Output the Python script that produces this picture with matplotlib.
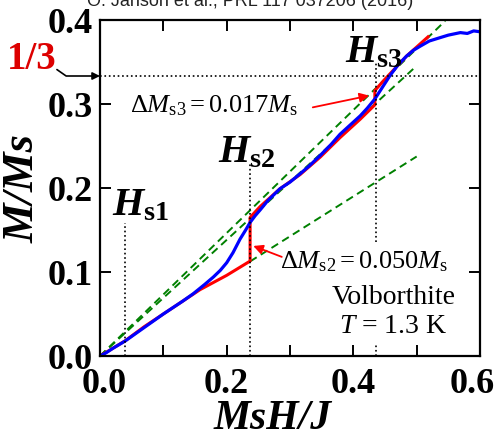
import matplotlib
matplotlib.use('Agg')
import matplotlib.pyplot as plt
from matplotlib.ticker import MultipleLocator, FixedLocator
from matplotlib.transforms import ScaledTranslation

plt.rcParams['font.family'] = ['Liberation Serif', 'DejaVu Serif']
plt.rcParams['mathtext.fontset'] = 'custom'
plt.rcParams['mathtext.rm'] = 'Liberation Serif'
plt.rcParams['mathtext.it'] = 'Liberation Serif:italic'
plt.rcParams['mathtext.bf'] = 'Liberation Serif:bold'
plt.rcParams['mathtext.bfit'] = 'Liberation Serif:italic:bold'

# data
# experiment (blue)
exp_h = [0, 0.01, 0.02, 0.04, 0.07, 0.10, 0.13, 0.147, 0.165, 0.179, 0.19, 0.200,
         0.21, 0.221, 0.23, 0.237, 0.245, 0.253, 0.265, 0.284, 0.30, 0.316, 0.33,
         0.348, 0.365, 0.379, 0.395, 0.411, 0.422, 0.434, 0.446, 0.458, 0.470,
         0.484, 0.495, 0.506, 0.52, 0.537, 0.55, 0.569, 0.58, 0.59, 0.60]
exp_m = [0, 0.004, 0.009, 0.018, 0.034, 0.050, 0.065, 0.074, 0.085, 0.094, 0.102, 0.111,
         0.123, 0.139, 0.150, 0.159, 0.167, 0.174, 0.185, 0.199, 0.207, 0.217, 0.226,
         0.239, 0.252, 0.264, 0.275, 0.286, 0.295, 0.306, 0.320, 0.334, 0.346,
         0.357, 0.364, 0.369, 0.375, 0.379, 0.382, 0.385, 0.384, 0.387, 0.386]
# theory (red)
th_h = [0, 0.02, 0.0395, 0.07, 0.10, 0.158, 0.20, 0.237, 0.237, 0.253, 0.284, 0.316,
        0.348, 0.379, 0.411, 0.434, 0.434, 0.448, 0.484, 0.518]
th_m = [0, 0.009, 0.018, 0.035, 0.050, 0.079, 0.096, 0.113, 0.165, 0.178, 0.199, 0.216,
        0.237, 0.260, 0.282, 0.299, 0.316, 0.328, 0.357, 0.380]

# green guide lines through the origin: (slope, x start, x end)
guides = [(0.732, 0.0, 0.545), (0.691, 0.0, 0.498), (0.475, 0.237, 0.50)]

# critical fields
hs_x = [0.040, 0.237, 0.436]
hs_top = [0.158, 0.229, 0.350]

x_ticks = [0, 0.2, 0.4, 0.6]
x_tick_labels = ['0.0', '0.2', '0.4', '0.6']

fig = plt.figure(figsize=(5, 4.39), dpi=100)
ax = fig.add_axes([0.2, 1 - 357 / 439, 0.76, 336 / 439])

for s, x0, x1 in guides:
    ax.plot([x0, x1], [s * x0, s * x1], color='#008000', lw=1.4, ls=(0, (4, 2.5)))

ax.plot(th_h, th_m, color='red', lw=2.2)
ax.plot(exp_h, exp_m, color='blue', lw=2.3)

# dotted lines
ax.plot([0, 0.6], [1 / 3, 1 / 3], color='k', lw=1.2, ls=':')
ax.plot([hs_x[0], hs_x[0]], [0, hs_top[0]], color='k', lw=1.2, ls=':')
ax.plot([hs_x[1], hs_x[1]], [0, hs_top[1]], color='k', lw=1.2, ls=':')
ax.plot([hs_x[2], hs_x[2]], [0.136, hs_top[2]], color='k', lw=1.2, ls=':')
ax.plot([hs_x[2], hs_x[2]], [0, 0.014], color='k', lw=1.2, ls=':')

ax.set_xlim(0, 0.6)
ax.set_ylim(0, 0.4)
ax.set_xticks(x_ticks)
ax.set_xticklabels(x_tick_labels)
ax.xaxis.set_minor_locator(FixedLocator([0.1, 0.3, 0.5]))
ax.yaxis.set_major_locator(MultipleLocator(0.1))
ax.yaxis.set_major_formatter(plt.FuncFormatter(lambda v, p: f'{v:.1f}'))
ax.tick_params(which='both', direction='in', top=True, right=True, length=8, width=1.4)
ax.tick_params(axis='x', pad=8)
ax.tick_params(axis='y', pad=5)
for lab in ax.get_xticklabels() + ax.get_yticklabels():
    lab.set_fontsize(26)
    lab.set_fontweight('bold')
# first and last x labels sit slightly inward
xl = ax.get_xticklabels()
xl[0].set_transform(xl[0].get_transform() + ScaledTranslation(4 / 100, 0, fig.dpi_scale_trans))
xl[-1].set_transform(xl[-1].get_transform() + ScaledTranslation(-8 / 100, 0, fig.dpi_scale_trans))
for sp in ax.spines.values():
    sp.set_linewidth(1.6)

ax.set_xlabel('MsH/J', fontsize=30, fontweight='bold', fontstyle='italic')
ax.xaxis.set_label_coords(0.455, -0.128)
ax.set_ylabel('M/Ms', fontsize=32, fontweight='bold', fontstyle='italic', labelpad=4)

# labels
ax.text(0.019, 0.169, r'$\mathbfit{H}_{\mathbf{s1}}$', fontsize=29, ha='left', va='baseline')
ax.text(0.186, 0.232, r'$\mathbfit{H}_{\mathbf{s2}}$', fontsize=29, ha='left', va='baseline')
ax.text(0.387, 0.351, r'$\mathbfit{H}_{\mathbf{s3}}$', fontsize=29, ha='left', va='baseline')

ax.text(0.047, 0.291, r'$\Delta M_{\rm s3} = 0.017M_{\rm s}$', fontsize=19, ha='left', va='baseline')
ax.text(0.284, 0.106, r'$\Delta M_{\rm s2} = 0.050M_{\rm s}$', fontsize=19, ha='left', va='baseline')
ax.text(0.463, 0.063, 'Volborthite', fontsize=20, ha='center', va='baseline')
ax.text(0.463, 0.029, r'$T$ = 1.3 K', fontsize=20, ha='center', va='baseline')

ax.annotate('', xy=(0.425, 0.310), xytext=(0.336, 0.296),
            arrowprops=dict(arrowstyle='-|>', color='red', lw=1.3, mutation_scale=14,
                            shrinkA=0, shrinkB=0))
ax.annotate('', xy=(0.242, 0.131), xytext=(0.287, 0.118),
            arrowprops=dict(arrowstyle='-|>', color='red', lw=1.3, mutation_scale=14,
                            shrinkA=0, shrinkB=0))

# 1/3 marker
ax.text(-0.108, 0.354, '1/3', color='#dd0000', fontsize=28, fontweight='bold',
        ha='center', va='center', clip_on=False)
ax.annotate('', xy=(0, 1 / 3), xytext=(-0.068, 0.341), annotation_clip=False,
            arrowprops=dict(arrowstyle='-|>', color='k', lw=1.2, mutation_scale=11,
                            shrinkA=0, shrinkB=0,
                            connectionstyle='angle,angleA=-35,angleB=180,rad=0'))

# source line, cut by the top edge as in the original
fig.text(0.5, (439 - 6) / 439, 'O. Janson et al., PRL 117 037206 (2016)',
         fontsize=13, family='Liberation Sans', color='#222222', ha='center', va='baseline')

fig.savefig('out.png', dpi=100)
